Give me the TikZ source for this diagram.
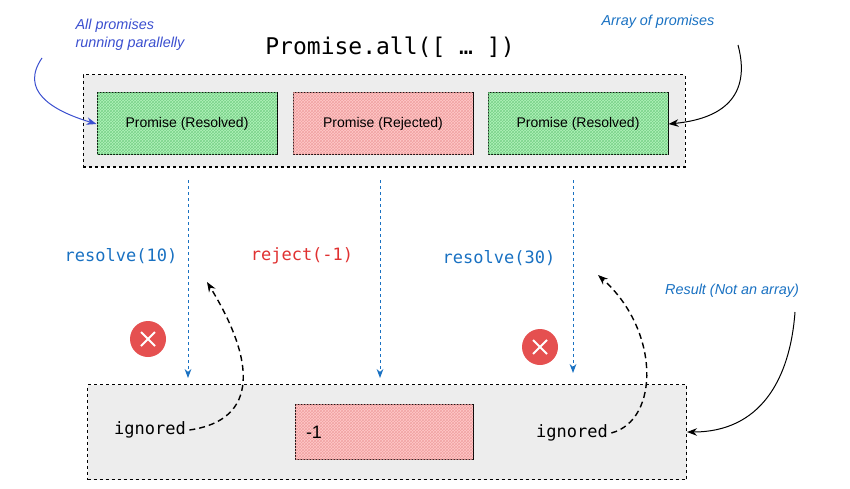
\documentclass[tikz,border=0pt]{standalone}
\usepackage{fontspec}
\setmainfont{Liberation Sans}
\newfontfamily\codefont{DejaVu Sans Mono}
\usetikzlibrary{arrows.meta,patterns}
\definecolor{gfill}{HTML}{B2F2BB}
\definecolor{gline}{HTML}{40C057}
\definecolor{rfill}{HTML}{FFC9C9}
\definecolor{rline}{HTML}{E03131}
\definecolor{bluet}{HTML}{1971C2}
\definecolor{annot}{HTML}{3B4FCF}
\definecolor{boxbg}{HTML}{EDEDED}
\begin{document}
\begin{tikzpicture}[x=1pt,y=-1pt,
  frame/.style={draw=black,dashed,fill=boxbg,line width=1pt},
  gbox/.style={draw=black,fill=gfill,line width=1pt,postaction={pattern=crosshatch,pattern color=gline!70},minimum width=180pt,minimum height=62pt,font=\fontsize{14}{16}\selectfont},
  rbox/.style={draw=black,fill=rfill,line width=1pt,postaction={pattern=crosshatch,pattern color=rline!45},minimum height=62pt,font=\fontsize{14}{16}\selectfont},
  code/.style={font=\codefont\fontsize{17}{20}\selectfont},
  note/.style={font=\itshape\Large,text=bluet,align=left},
  flow/.style={dashed,draw=bluet,line width=1pt,-{Stealth[length=9pt]}},
  back/.style={dash pattern=on 6pt off 4pt,draw=black,line width=1.4pt,-{Stealth[length=10pt]}},
  pointer/.style={draw=black,line width=1pt,-{Stealth[length=10pt]}},
  xmark/.style={circle,fill=rline!85,minimum size=36pt,inner sep=0pt}]
\useasboundingbox (0,0) rectangle (850,489);
\node[frame,minimum width=602pt,minimum height=92pt] (top) at (384,121) {};
\node[gbox] (p1) at (187,124) {Promise (Resolved)};
\node[rbox,minimum width=180pt] (p2) at (383,124) {Promise (Rejected)};
\node[gbox] (p3) at (578,124) {Promise (Resolved)};
\node[font=\codefont\fontsize{23}{26}\selectfont] (title) at (390,47) {Promise.all([ … ])};
\node[note,text=annot] (n1) at (130,35) {All promises\\running parallelly};
\node[note] (n2) at (658,22) {Array of promises};
\draw[pointer,draw=annot] (42,58) .. controls (20,90) and (50,110) .. (p1.west);
\draw[pointer] (738,45) .. controls (750,90) and (730,118) .. (p3.east);
\node[frame,minimum width=599pt,minimum height=95pt] (bot) at (387,432) {};
\node[rbox,minimum width=178pt,minimum height=55pt,font=\fontsize{18}{20}\selectfont] (res) at (384,432) {\hspace{-140pt}-1};
\coordinate (e1) at (188,378);
\coordinate (e2) at (380,378);
\coordinate (e3) at (573,373);
\draw[flow] (188,180) -- (e1);
\draw[flow] (380,180) -- (e2);
\draw[flow] (573,180) -- (e3);
\node[code,text=bluet] (l1) at (121,256) {resolve(10)};
\node[code,text=rline] (l2) at (302,256) {reject(-1)};
\node[code,text=bluet] (l3) at (499,258) {resolve(30)};
\node[xmark] (x1) at (148,339) {};
\node[xmark] (x2) at (540,347) {};
\foreach \c in {x1,x2}{\draw[white,line width=1.8pt] ([shift={(-7,-7)}]\c.center) -- ([shift={(7,7)}]\c.center) ([shift={(-7,7)}]\c.center) -- ([shift={(7,-7)}]\c.center);}
\node[code] (i1) at (150,430) {ignored};
\node[code] (i2) at (572,433) {ignored};
\coordinate (t1) at (207,282);
\coordinate (t2) at (598,275);
\draw[back] (i1.east) .. controls (260,420) and (255,360) .. (t1);
\draw[back] (i2.east) .. controls (660,420) and (660,330) .. (t2);
\node[note] (n3) at (732,291) {Result (Not an array)};
\draw[pointer] (795,312) .. controls (790,380) and (760,432) .. (bot.east);
\end{tikzpicture}
\end{document}
